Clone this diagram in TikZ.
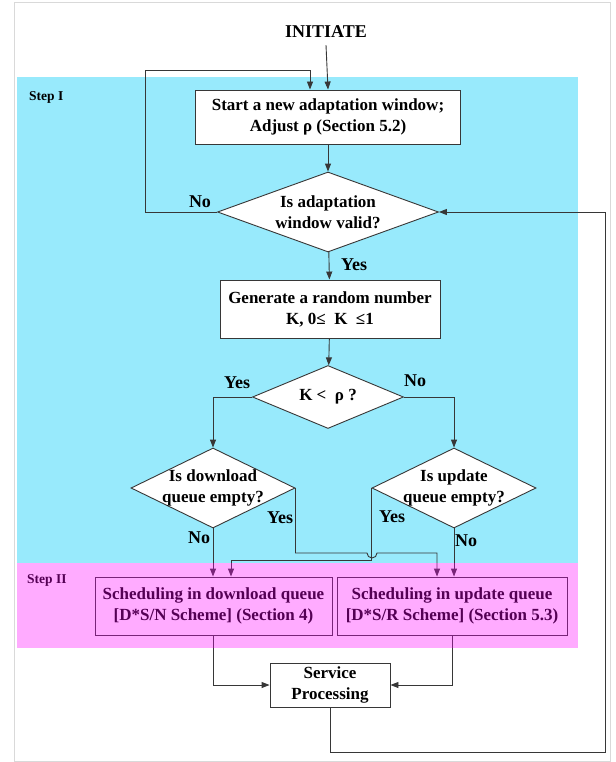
\documentclass[tikz,border=0pt]{standalone}
\usepackage{fontspec}
\setmainfont{Liberation Serif}
\usepackage{xcolor}
\usepackage{tikz}
\usetikzlibrary{shapes.geometric, arrows.meta, calc, positioning}

\definecolor{stepone}{RGB}{152,234,252}
\definecolor{steptwo}{RGB}{255,0,255}
\definecolor{linegray}{RGB}{55,55,55}

\begin{document}
\begin{tikzpicture}[
    x=1pt, y=-1pt,
    every node/.style={font=\fontsize{17}{21}\selectfont\bfseries, align=center},
    proc/.style={rectangle, draw=linegray, fill=white, inner sep=0pt, line width=0.9pt},
    decision/.style={diamond, draw=linegray, fill=white, inner sep=-6pt, line width=0.9pt},
    lbl/.style={inner sep=0pt, font=\fontsize{18}{21}\selectfont\bfseries},
    steplbl/.style={inner sep=0pt, font=\fontsize{13.5}{15}\selectfont\bfseries, anchor=west},
    arrow/.style={draw=linegray, line width=0.9pt, -{Triangle[length=8pt,width=6pt]}},
    line/.style={draw=linegray, line width=0.9pt}
]
\useasboundingbox (0,0) rectangle (615,762);

% frame and step areas
\draw[gray!30, line width=0.8pt] (14,2) rectangle (610,761);
\fill[stepone] (17,77) rectangle (578,563);
\node[steplbl] (stepI) at (29,97) {Step I};

% start
\node[lbl] (init) at (326,32) {INITIATE};
\node[proc, minimum width=265, minimum height=54] (start) at (328,117)
    {Start a new adaptation window;\\ Adjust ρ (Section 5.2)};
\node[decision, aspect=2.76, minimum width=221, minimum height=80] (valid) at (328,212)
    {Is adaptation\\ window valid?};
\node[proc, minimum width=220, minimum height=58] (gen) at (330,309)
    {Generate a random number\\ K, 0≤~ K~ ≤1};
\node[decision, aspect=2.4, minimum width=151, minimum height=63] (cmp) at (328,397)
    {K <~ ρ ?};
\node[decision, aspect=2.05, minimum width=164, minimum height=80] (dq) at (213,488)
    {Is download\\ queue empty?};
\node[decision, aspect=2.05, minimum width=164, minimum height=80] (uq) at (454,488)
    {Is update\\ queue empty?};

% step II
\node[steplbl] (stepII) at (27,580) {Step II};
\node[proc, minimum width=237, minimum height=58] (sd) at (213.5,606)
    {Scheduling in download queue\\ {[}D*S/N Scheme] (Section 4)};
\node[proc, minimum width=230, minimum height=58] (su) at (452,606)
    {Scheduling in update queue\\ {[}D*S/R Scheme] (Section 5.3)};
\node[proc, minimum width=120, minimum height=44] (sp) at (330,685)
    {Service\\ Processing};

% helper points
\coordinate (lp) at (145,70);
\coordinate (hop) at (372,553);
\coordinate (yr) at (437,553);
\coordinate (yl) at (231,560);
\coordinate (ret) at (605,752);

% connectors
\draw[arrow] (init.south) ++(0,7) -- (start.north);
\draw[arrow] (valid.west) -| (lp) -| ([xshift=-18pt]start.north);
\draw[arrow] (start) -- (valid);
\draw[arrow] (valid) -- (gen);
\draw[arrow] (gen) -- (cmp);
\draw[arrow] (cmp.west) -| (dq.north);
\draw[arrow] (cmp.east) -| (uq.north);
\draw[arrow] (dq.south) -- (dq.south |- sd.north);
\draw[arrow] (uq.south) -- (uq.south |- su.north);
\draw[arrow] (dq.east) |- ([xshift=-5pt]hop) arc[start angle=180, end angle=0, radius=5]
    -- (yr) -- (yr |- su.north);
\draw[arrow] (uq.west) |- (yl) -- (yl |- sd.north);
\draw[arrow] (sd.south) |- (sp.west);
\draw[arrow] (su.south) |- (sp.east);
\draw[arrow] (sp.south) |- (ret) |- (valid.east);

% labels
\node[lbl] (novalid) at (200,202) {No};
\node[lbl] (yesvalid) at (354,265) {Yes};
\node[lbl] (yescmp) at (237,383) {Yes};
\node[lbl] (nocmp) at (415,381) {No};
\node[lbl] (yesdq) at (280,518) {Yes};
\node[lbl] (yesuq) at (392,517) {Yes};
\node[lbl] (nodq) at (199,538) {No};
\node[lbl] (nouq) at (466,541) {No};

% step II overlay
\fill[steptwo, opacity=0.33] (17,563) rectangle (578,648);

\end{tikzpicture}
\end{document}
